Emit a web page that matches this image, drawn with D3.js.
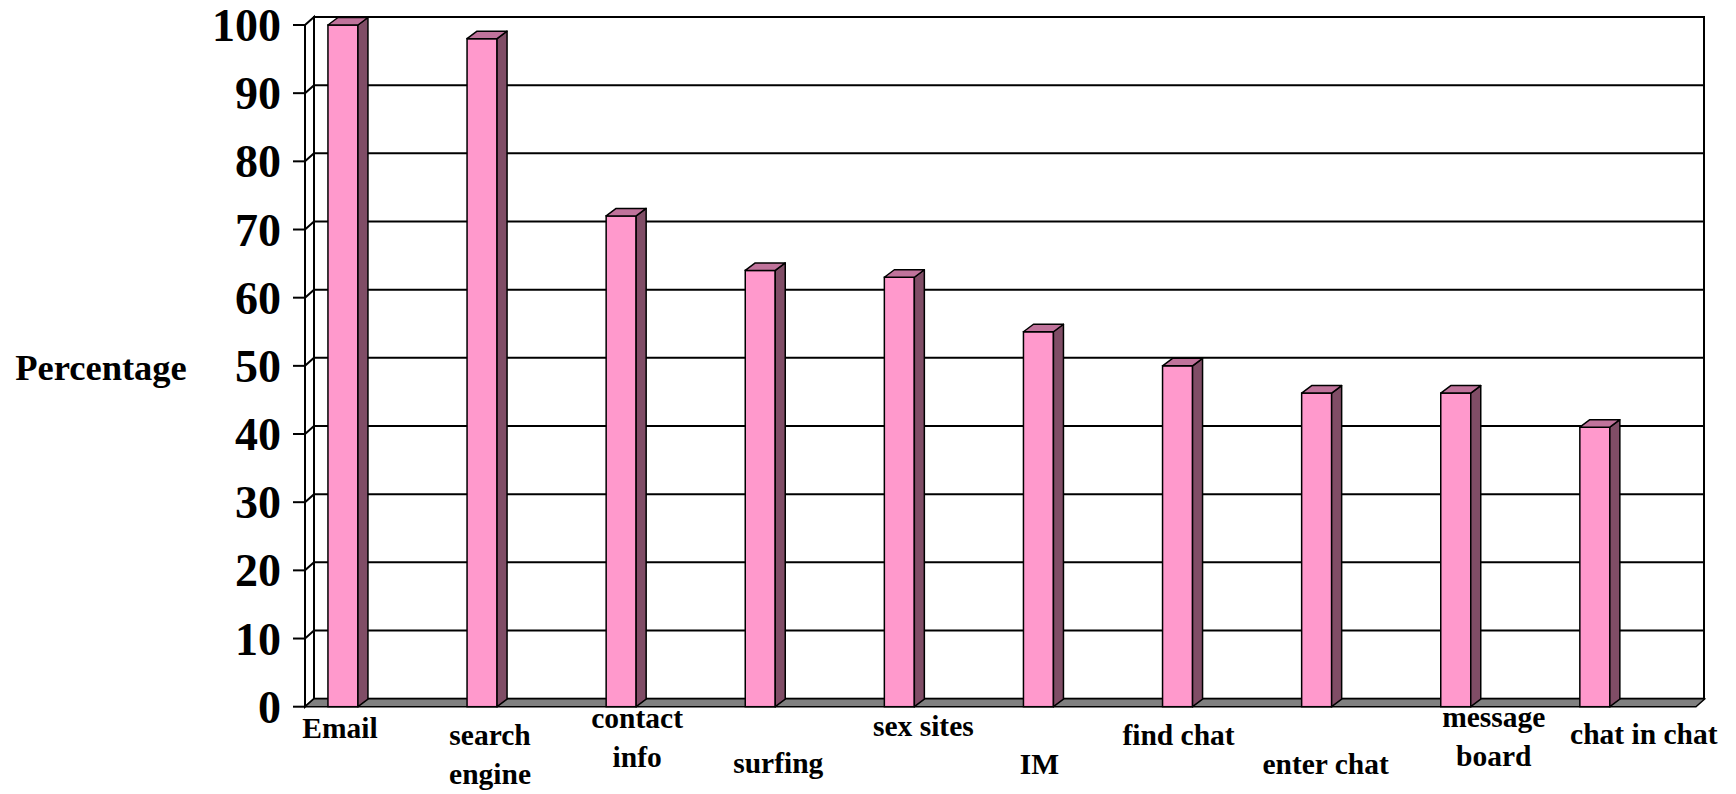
<!DOCTYPE html>
<html>
<head>
<meta charset="utf-8">
<script src="https://cdn.jsdelivr.net/npm/d3@7"></script>
<style>
  html, body { margin: 0; padding: 0; background: #ffffff; }
  svg { display: block; }
  text { font-family: "Liberation Serif", "Times New Roman", serif; font-weight: bold; fill: #000; }
</style>
</head>
<body>
<svg id="chart" width="1736" height="794"></svg>
<script>
// Share of respondents using each online activity
const categories = ["Email", "search engine", "contact info", "surfing", "sex sites",
                    "IM", "find chat", "enter chat", "message board", "chat in chat"];
const percentages = [100, 98, 72, 64, 63, 55, 50, 46, 46, 41];
const tickValues = [0, 10, 20, 30, 40, 50, 60, 70, 80, 90, 100];
const axisTitle = "Percentage";

// Category label lines (labels are wrapped and staggered under the floor)
const labelLines = [["Email"], ["search", "engine"], ["contact", "info"], ["surfing"], ["sex sites"],
                    ["IM"], ["find chat"], ["enter chat"], ["message", "board"], ["chat in chat"]];
// Label placement: horizontal shift from the bar face and first baseline
const labelShift = [12, 23, 31, 33, 39, 16, 16, 24, 53, 64];
const labelBaseline = [738, 745, 728, 773, 736, 774, 745, 774, 727, 744];

const svg = d3.select("#chart");

const plotLeft = 305, plotRight = 1696;
const wallDx = 9, wallDy = -8;     // depth of the walls and floor
const barDx = 10, barDy = -7.5;    // depth of each column
const barWidth = 30;

const y = d3.scaleLinear().domain([0, 100]).range([706.7, 25]);
const x = d3.scaleBand().domain(categories).range([plotLeft, plotRight]).padding(0);
const barOffset = x.bandwidth() * 0.165;

const lineColor = "#000";
const frontColor = "#FF99CC";
const sideColor = "#804D66";
const topColor = "#C0739B";

const walls = svg.append("g");

// back wall
walls.append("rect")
  .attr("x", plotLeft + wallDx).attr("y", y(100) + wallDy)
  .attr("width", plotRight + wallDx - 1 - (plotLeft + wallDx))
  .attr("height", y(0) - y(100))
  .attr("fill", "#fff").attr("stroke", lineColor).attr("stroke-width", 2);

// left side wall
walls.append("polygon")
  .attr("points", [[plotLeft, y(100)], [plotLeft + wallDx, y(100) + wallDy],
                   [plotLeft + wallDx, y(0) + wallDy], [plotLeft, y(0)]].join(" "))
  .attr("fill", "#fff").attr("stroke", lineColor).attr("stroke-width", 2);

// gridlines on back wall and side wall
const grid = walls.append("g");
tickValues.filter(t => t > 0 && t < 100).forEach(t => {
  grid.append("line")
    .attr("x1", plotLeft + wallDx).attr("x2", plotRight + wallDx - 1)
    .attr("y1", y(t) + wallDy).attr("y2", y(t) + wallDy)
    .attr("stroke", lineColor).attr("stroke-width", 2);
  grid.append("line")
    .attr("x1", plotLeft).attr("x2", plotLeft + wallDx)
    .attr("y1", y(t)).attr("y2", y(t) + wallDy)
    .attr("stroke", lineColor).attr("stroke-width", 2);
});

// floor
walls.append("polygon")
  .attr("points", [[plotLeft, y(0)], [plotLeft + wallDx, y(0) + wallDy],
                   [plotRight + wallDx, y(0) + wallDy], [plotRight, y(0)]].join(" "))
  .attr("fill", "#808080").attr("stroke", lineColor).attr("stroke-width", 1.5)
  .attr("stroke-linejoin", "round");

// value axis
const axis = svg.append("g");
axis.append("line")
  .attr("x1", plotLeft).attr("x2", plotLeft)
  .attr("y1", y(100)).attr("y2", y(0))
  .attr("stroke", lineColor).attr("stroke-width", 2);
axis.selectAll("line.tick").data(tickValues).join("line")
  .attr("class", "tick")
  .attr("x1", plotLeft - 12).attr("x2", plotLeft)
  .attr("y1", d => y(d)).attr("y2", d => y(d))
  .attr("stroke", lineColor).attr("stroke-width", 2);
axis.selectAll("text").data(tickValues).join("text")
  .attr("x", 281).attr("y", d => y(d))
  .attr("dy", "0.35em")
  .attr("text-anchor", "end")
  .attr("font-size", 46)
  .text(d => d);

// axis title
svg.append("text")
  .attr("x", 101).attr("y", 380)
  .attr("text-anchor", "middle")
  .attr("font-size", 36.5)
  .text(axisTitle);

// 3D columns
const bars = svg.append("g");
categories.forEach((c, i) => {
  const v = percentages[i];
  const x0 = x(c) + barOffset, x1 = x0 + barWidth;
  const yt = y(v), yb = y(0);
  const g = bars.append("g");
  g.append("rect")
    .attr("x", x0).attr("y", yt).attr("width", barWidth).attr("height", yb - yt)
    .attr("fill", frontColor).attr("stroke", lineColor).attr("stroke-width", 1.5);
  g.append("polygon")
    .attr("points", [[x1, yt], [x1 + barDx, yt + barDy], [x1 + barDx, yb + barDy], [x1, yb]].join(" "))
    .attr("fill", sideColor).attr("stroke", lineColor).attr("stroke-width", 1.5)
    .attr("stroke-linejoin", "round");
  g.append("polygon")
    .attr("points", [[x0, yt], [x0 + barDx, yt + barDy], [x1 + barDx, yt + barDy], [x1, yt]].join(" "))
    .attr("fill", topColor).attr("stroke", lineColor).attr("stroke-width", 1.5)
    .attr("stroke-linejoin", "round");
});

// category labels
const labels = svg.append("g");
categories.forEach((c, i) => {
  const t = labels.append("text")
    .attr("text-anchor", "middle")
    .attr("font-size", 29.5)
    .attr("x", x(c) + barOffset + labelShift[i])
    .attr("y", labelBaseline[i]);
  labelLines[i].forEach((line, k) => {
    t.append("tspan")
      .attr("x", x(c) + barOffset + labelShift[i])
      .attr("dy", k === 0 ? 0 : 38.5)
      .text(line);
  });
});
</script>
</body>
</html>
